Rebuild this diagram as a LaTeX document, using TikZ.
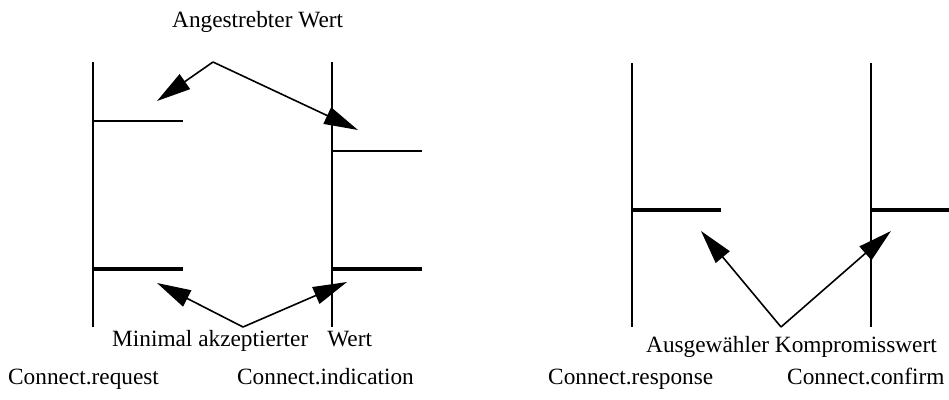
\documentclass[tikz,border=0pt]{standalone}
\usepackage{fontspec}
\setmainfont{Liberation Serif}
\usetikzlibrary{arrows.meta}
\begin{document}
\begin{tikzpicture}[x=1pt,y=-1pt,
  lane/.style={line width=2pt},
  thinbar/.style={line width=1.6pt},
  thickbar/.style={line width=3.6pt},
  ptr/.style={line width=1.6pt,-{Triangle[length=34pt,width=18pt]}},
  lbl/.style={anchor=base west,inner sep=0pt,font=\fontsize{23.3}{27}\selectfont}]
\useasboundingbox (0,0) rectangle (949,399);
% left diagram
\coordinate (L1t) at (93,62);  \coordinate (L1b) at (93,327);
\coordinate (L2t) at (332,62); \coordinate (L2b) at (332,327);
\draw[lane] (L1t) -- (L1b);
\draw[lane] (L2t) -- (L2b);
\coordinate (a1) at (93,121);  \coordinate (a2) at (183,121);
\coordinate (b1) at (332,151); \coordinate (b2) at (422,151);
\draw[thinbar] (a1) -- (a2);
\draw[thinbar] (b1) -- (b2);
\coordinate (c1) at (93,269);  \coordinate (c2) at (183,269);
\coordinate (d1) at (332,269); \coordinate (d2) at (422,269);
\draw[thickbar] (c1) -- (c2);
\draw[thickbar] (d1) -- (d2);
\coordinate (apexT) at (213,62);
\coordinate (tipT1) at (157,101);
\coordinate (tipT2) at (358,130);
\draw[ptr] (apexT) -- (tipT1);
\draw[ptr] (apexT) -- (tipT2);
\coordinate (apexB) at (243,327);
\coordinate (tipB1) at (157,283);
\coordinate (tipB2) at (347,282);
\draw[ptr] (apexB) -- (tipB1);
\draw[ptr] (apexB) -- (tipB2);
\node[lbl] (angestrebt) at (172,27) {Angestrebter Wert};
\node[lbl] (minimal) at (112,346) {Minimal akzeptierter\hspace{19pt}Wert};
\node[lbl] (creq) at (8,384) {Connect.request};
\node[lbl] (cind) at (237,384) {Connect.indication};
% right diagram
\coordinate (R1t) at (632,63);  \coordinate (R1b) at (632,327);
\coordinate (R2t) at (871,63);  \coordinate (R2b) at (871,327);
\draw[lane] (R1t) -- (R1b);
\draw[lane] (R2t) -- (R2b);
\coordinate (e1) at (632,210); \coordinate (e2) at (721,210);
\coordinate (f1) at (871,210); \coordinate (f2) at (949,210);
\draw[thickbar] (e1) -- (e2);
\draw[thickbar] (f1) -- (f2);
\coordinate (apexR) at (781,327);
\coordinate (tipR1) at (701,231);
\coordinate (tipR2) at (891,231);
\draw[ptr] (apexR) -- (tipR1);
\draw[ptr] (apexR) -- (tipR2);
\node[lbl] (kompromiss) at (646,352) {Ausgewähler Kompromisswert};
\node[lbl] (cresp) at (548,384) {Connect.response};
\node[lbl] (cconf) at (787,384) {Connect.confirm};
\end{tikzpicture}
\end{document}
